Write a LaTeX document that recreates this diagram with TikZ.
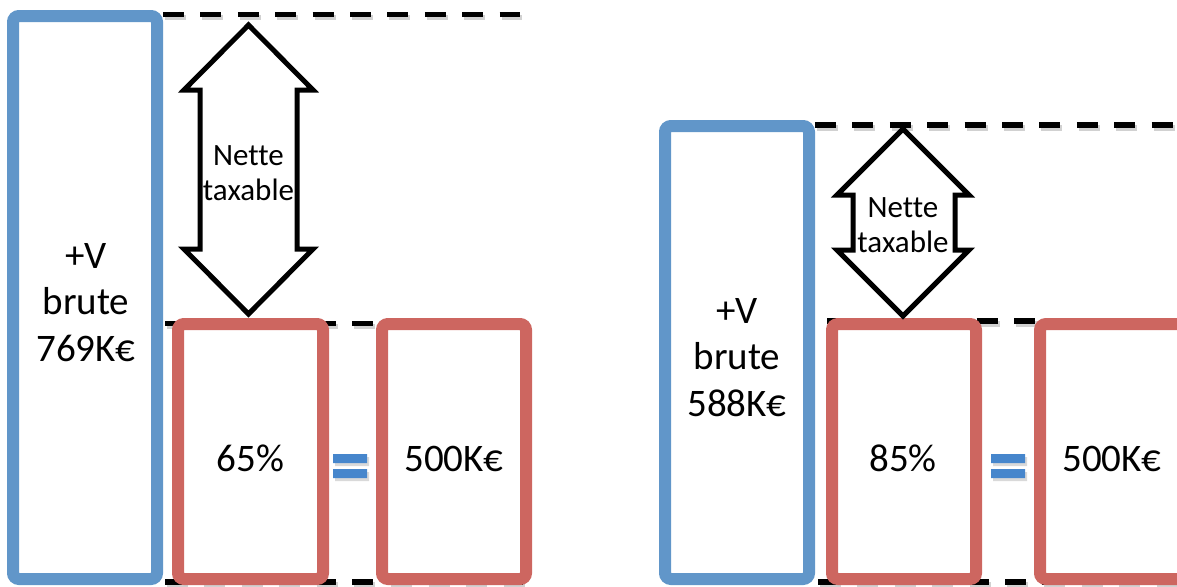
\documentclass[tikz,border=0pt]{standalone}
\usepackage{fontspec}
\setmainfont{Carlito}[Ligatures=NoCommon]
\usetikzlibrary{calc}
\definecolor{brutblue}{RGB}{97,150,201}
\definecolor{taxred}{RGB}{205,102,96}
\definecolor{eqblue}{RGB}{70,134,204}

\begin{document}
\begin{tikzpicture}[x=0.5pt,y=-0.5pt,
    box/.style={draw=#1,line width=6pt,rounded corners=3pt,inner sep=0pt,outer sep=0pt},
    big/.style={font=\fontsize{19.5}{23.25}\selectfont,align=center,inner sep=0pt},
    small/.style={font=\fontsize{15.5}{17.5}\selectfont,align=center,inner sep=0pt},
    dashline/.style={line width=2.6pt,dash pattern=on 10.5pt off 8.2pt,
      preaction={draw=black!18,line width=2.6pt,dash pattern=on 10.5pt off 8.2pt,
        transform canvas={xshift=1pt,yshift=-1.5pt}}},
    dblarrow/.style={draw=black,fill=white,line width=2.5pt,line join=miter},
    eqbar/.style={fill=eqblue,draw=none}]
  \clip (0,0) rectangle (1177,586);
  % guide lines
  \foreach \xa/\xb/\y in {163/520/14.5,165/532/323.5,165/532/582,
                          815/1190/125,827/1190/321,818/1190/582}
    \draw[dashline] (\xa,\y) -- (\xb,\y);
  % left case
  \node[box=brutblue,minimum width=72pt,minimum height=281.5pt] (brute1) at (85,297.5) {};
  \node[box=taxred,minimum width=72.5pt,minimum height=127.5pt] (taux1) at (250.5,451.5) {};
  \node[box=taxred,minimum width=72pt,minimum height=127.5pt] (net1) at (454,451.5) {};
  \node[big] (brutetxt1) at ([xshift=0.5pt,yshift=-2.5pt]brute1.center) {+V\\brute\\769K€};
  \node[big] (tauxtxt1) at ([yshift=-3.5pt]taux1.center) {65\%};
  \node[big] (nettxt1) at ([yshift=-3.5pt]net1.center) {500K€};
  \draw[dblarrow] (248.5,25) -- (313,90) -- (297,90) -- (297,249) -- (313,249) -- (248.5,314)
    -- (184,249) -- (200,249) -- (200,90) -- (184,90) -- cycle;
  \node[small] (taxable1) at (248.5,173) {Nette\\taxable};
  \fill[black!15] (335,457) rectangle (369,466) (335,472) rectangle (369,481);
  \fill[eqbar] (333,454) rectangle (367,463) (333,469) rectangle (367,478);
  % right case
  \node[box=brutblue,minimum width=72pt,minimum height=226.5pt] (brute2) at (737,352.5) {};
  \node[box=taxred,minimum width=72pt,minimum height=127.5pt] (taux2) at (904,451.5) {};
  \node[box=taxred,minimum width=80pt,minimum height=127.5pt] (net2) at (1120,451.5) {};
  \node[big] (brutetxt2) at ([yshift=-2.5pt]brute2.center) {+V\\brute\\588K€};
  \node[big] (tauxtxt2) at ([xshift=-0.5pt,yshift=-3.5pt]taux2.center) {85\%};
  \node[big] (nettxt2) at (1112,458.5) {500K€};
  \draw[dblarrow] (903,129) -- (969,195) -- (955,195) -- (955,250) -- (969,250) -- (903,316)
    -- (837,250) -- (853,250) -- (853,195) -- (837,195) -- cycle;
  \node[small] (taxable2) at (903,225) {Nette\\taxable};
  \fill[black!15] (993,457) rectangle (1027,466) (993,472) rectangle (1027,481);
  \fill[eqbar] (991,454) rectangle (1025,463) (991,469) rectangle (1025,478);
\end{tikzpicture}
\end{document}
